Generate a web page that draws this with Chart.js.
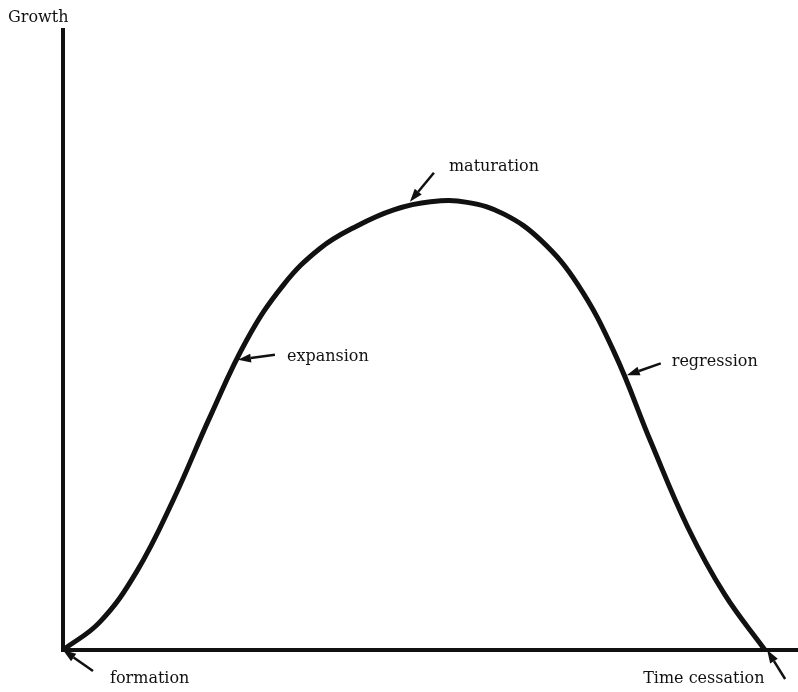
<!DOCTYPE html>
<html>
<head>
<meta charset="utf-8">
<script src="https://cdn.jsdelivr.net/npm/chart.js@4.4.1/dist/chart.umd.min.js"></script>
<style>
  html, body { margin: 0; padding: 0; background: #fff; }
  #wrap { width: 798px; height: 692px; position: relative; }
</style>
</head>
<body>
<div id="wrap"><canvas id="c"></canvas></div>
<script>
// Time (0..100) and Growth (0..100)
const timeValues   = [0, 5, 10, 15, 20, 25, 30, 35, 40, 45, 50, 55, 60, 65, 70, 75, 80, 85, 90, 95.5];
const growthValues = [0, 4.5, 12.6, 24.2, 37.6, 50.0, 58.9, 64.8, 68.4, 71.0, 72.3, 72.2, 70.3, 66.1, 59.0, 48.0, 33.5, 19.8, 9.0, 0];

// Stage annotations: label, point on the curve (data units)
const stageLabels = ['formation', 'expansion', 'maturation', 'regression', 'Time cessation'];
const stageTime   = [0, 23.8, 47.2, 76.7, 95.8];
const stageGrowth = [0, 46.8, 72.3, 44.3, 0];

const axisTitleY = 'Growth';

// layout of annotation arrows/text relative to the tip (pixels)
const stageStyle = [
  { tail: [30, 21],  text: [47, 33] },
  { tail: [37, -5],  text: [49, 1] },
  { tail: [24, -29], text: [39, -31] },
  { tail: [34, -12], text: [45, -9] },
  { tail: [18, 29],  text: [-124, 33] }
];

function drawArrow(ctx, x1, y1, x2, y2) {
  const ang = Math.atan2(y2 - y1, x2 - x1);
  const headLen = 13, headW = 4.5;
  const bx = x2 - headLen * Math.cos(ang), by = y2 - headLen * Math.sin(ang);
  ctx.beginPath();
  ctx.moveTo(x1, y1);
  ctx.lineTo(bx, by);
  ctx.lineWidth = 2.5;
  ctx.strokeStyle = '#111';
  ctx.stroke();
  ctx.beginPath();
  ctx.moveTo(x2, y2);
  ctx.lineTo(bx + headW * Math.sin(ang), by - headW * Math.cos(ang));
  ctx.lineTo(bx - headW * Math.sin(ang), by + headW * Math.cos(ang));
  ctx.closePath();
  ctx.fillStyle = '#111';
  ctx.fill();
}

const annotPlugin = {
  id: 'annot',
  afterDraw(chart) {
    const ctx = chart.ctx;
    const xs = chart.scales.x, ys = chart.scales.y;
    ctx.save();
    ctx.font = '16px "DejaVu Serif"';
    ctx.fillStyle = '#111';
    ctx.textBaseline = 'alphabetic';
    ctx.textAlign = 'left';
    ctx.fillText(axisTitleY, 8, 22);
    stageLabels.forEach((lab, i) => {
      const tx = xs.getPixelForValue(stageTime[i]);
      const ty = ys.getPixelForValue(stageGrowth[i]);
      const st = stageStyle[i];
      drawArrow(ctx, tx + st.tail[0], ty + st.tail[1], tx, ty);
      ctx.fillStyle = '#111';
      ctx.fillText(lab, tx + st.text[0], ty + st.text[1]);
    });
    ctx.restore();
  }
};

const points = timeValues.map((t, i) => ({ x: t, y: growthValues[i] }));

new Chart(document.getElementById('c'), {
  type: 'line',
  data: {
    datasets: [{
      data: points,
      borderColor: '#111',
      borderWidth: 5,
      pointRadius: 0,
      fill: false,
      tension: 0.4,
      clip: false
    }]
  },
  options: {
    responsive: true,
    maintainAspectRatio: false,
    animation: false,
    events: [],
    layout: { padding: { left: 63, right: 0, top: 30, bottom: 42 } },
    plugins: { legend: { display: false }, tooltip: { enabled: false } },
    scales: {
      x: {
        type: 'linear', min: 0, max: 100,
        ticks: { display: false },
        grid: { display: true, color: 'rgba(0,0,0,0)', drawTicks: false },
        border: { display: true, color: '#111', width: 4 }
      },
      y: {
        type: 'linear', min: 0, max: 100,
        ticks: { display: false },
        grid: { display: true, color: 'rgba(0,0,0,0)', drawTicks: false },
        border: { display: true, color: '#111', width: 4 }
      }
    }
  },
  plugins: [annotPlugin]
});
</script>
</body>
</html>
